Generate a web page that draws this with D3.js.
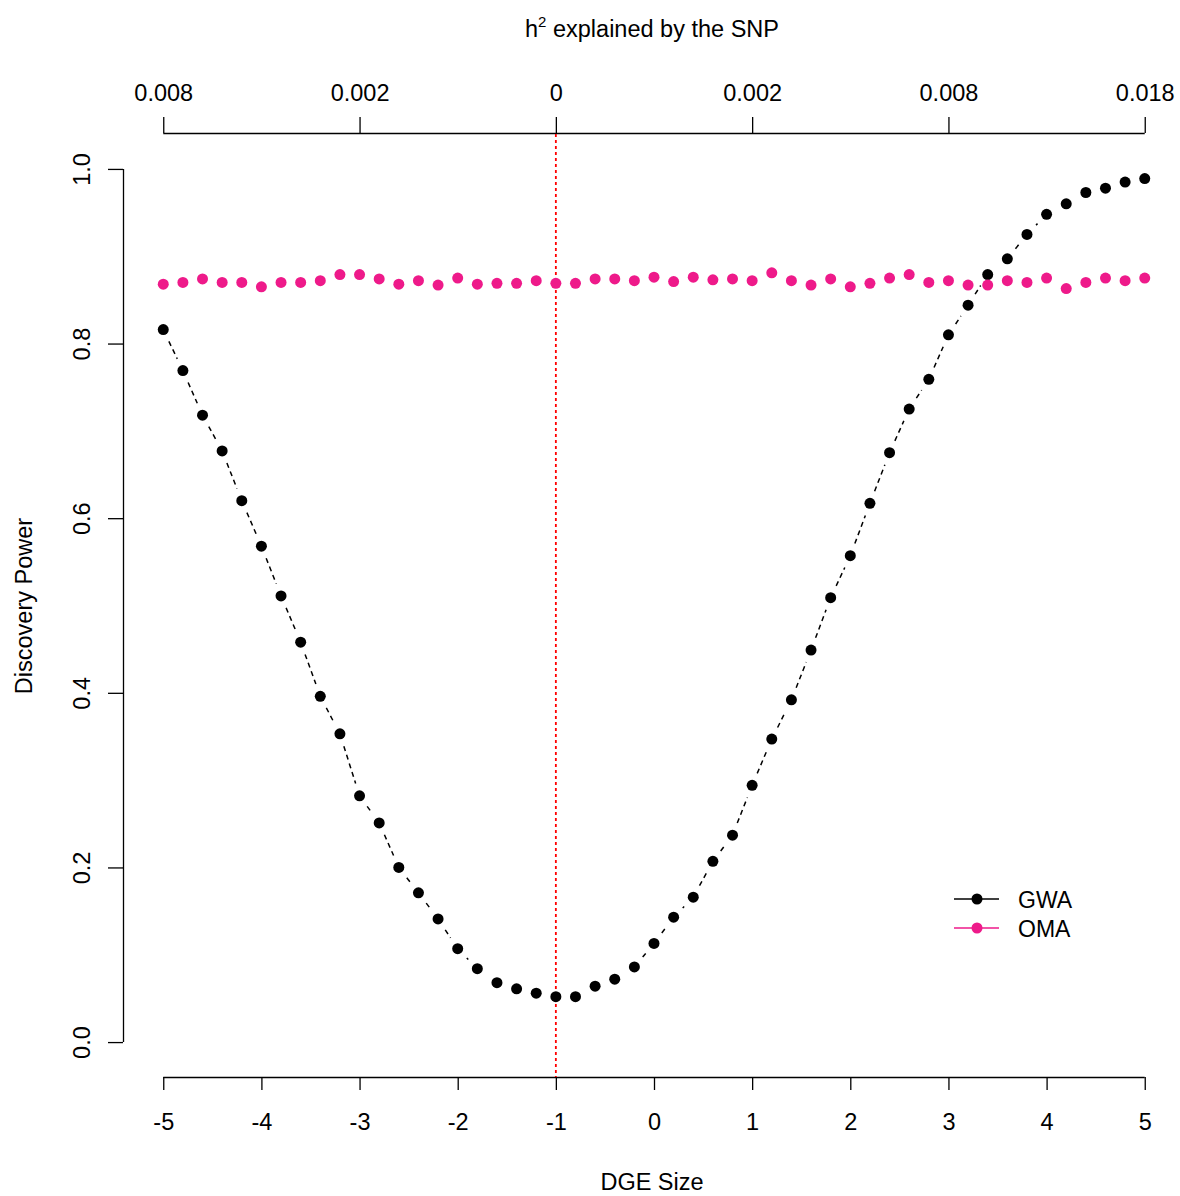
<!DOCTYPE html>
<html>
<head>
<meta charset="utf-8">
<script src="https://cdn.jsdelivr.net/npm/d3@7"></script>
<style>
  body { margin: 0; background: #fff; }
  svg { font-family: "Liberation Sans", Arial, sans-serif; }
  .axis path, .axis line { stroke: #000; stroke-width: 1.3; }
  .axis text { font-size: 23.5px; fill: #000; }
</style>
</head>
<body>
<svg id="chart" width="1180" height="1196"></svg>
<script>
// DGE size grid, -5 to 5 in steps of 0.2
var dgeSize = [-5,-4.8,-4.6,-4.4,-4.2,-4,-3.8,-3.6,-3.4,-3.2,-3,-2.8,-2.6,-2.4,-2.2,-2,-1.8,-1.6,-1.4,-1.2,-1,
  -0.8,-0.6,-0.4,-0.2,0,0.2,0.4,0.6,0.8,1,1.2,1.4,1.6,1.8,2,2.2,2.4,2.6,2.8,3,3.2,3.4,3.6,3.8,4,4.2,4.4,4.6,4.8,5];

var gwaPower = [0.816,0.769,0.718,0.677,0.620,0.568,0.511,0.458,0.396,0.353,0.282,0.251,0.200,0.171,0.141,0.107,
  0.084,0.068,0.061,0.056,0.052,0.052,0.064,0.072,0.086,0.113,0.143,0.166,0.207,0.237,0.294,0.347,0.392,0.449,
  0.509,0.557,0.617,0.675,0.725,0.759,0.810,0.844,0.879,0.897,0.925,0.948,0.960,0.973,0.978,0.985,0.989];

var omaPower = [0.868,0.870,0.874,0.870,0.870,0.865,0.870,0.870,0.872,0.879,0.879,0.874,0.868,0.872,0.867,0.875,
  0.868,0.869,0.869,0.872,0.869,0.869,0.874,0.874,0.872,0.876,0.871,0.876,0.873,0.874,0.872,0.881,0.872,0.867,
  0.874,0.865,0.869,0.875,0.879,0.870,0.872,0.867,0.867,0.872,0.870,0.875,0.863,0.870,0.875,0.872,0.875];

var bottomTicks = [-5,-4,-3,-2,-1,0,1,2,3,4,5];
var topTicks = [-5,-3,-1,1,3,5];
var topLabels = ["0.008","0.002","0","0.002","0.008","0.018"];
var yTicks = [0,0.2,0.4,0.6,0.8,1.0];
var yLabels = ["0.0","0.2","0.4","0.6","0.8","1.0"];

var svg = d3.select("#chart");

var x = d3.scaleLinear().domain([-5.4, 5.4]).range([124, 1184]);
var y = d3.scaleLinear().domain([-0.04, 1.04]).range([1077, 134]);

// axes
svg.append("g").attr("class", "axis")
  .attr("transform", "translate(0,1077)")
  .call(d3.axisBottom(x).tickValues(bottomTicks).tickSize(13).tickPadding(23).tickFormat(String))
  .call(function(g) { g.select(".domain").attr("d", "M" + x(-5) + ",0.5H" + x(5)); });

svg.append("g").attr("class", "axis")
  .attr("transform", "translate(0,133)")
  .call(d3.axisTop(x).tickValues(topTicks).tickSize(16).tickPadding(16)
    .tickFormat(function(d, i) { return topLabels[i]; }))
  .call(function(g) { g.select(".domain").attr("d", "M" + x(-5) + ",0.5H" + x(5)); });

svg.append("g").attr("class", "axis")
  .attr("transform", "translate(123,0)")
  .call(d3.axisLeft(y).tickValues(yTicks).tickSize(15).tickPadding(0)
    .tickFormat(function(d, i) { return yLabels[i]; }))
  .call(function(g) {
    g.select(".domain").attr("d", "M0.5," + y(0) + "V" + y(1));
    g.selectAll(".tick text")
      .attr("transform", "translate(-41,0) rotate(-90)")
      .attr("text-anchor", "middle").attr("x", 0).attr("dy", "0.35em");
  });

// titles
svg.append("text").attr("x", 652).attr("y", 1190).attr("text-anchor", "middle")
  .attr("font-size", 23.5).text("DGE Size");
svg.append("text").attr("transform", "translate(32,606) rotate(-90)").attr("text-anchor", "middle")
  .attr("font-size", 23.5).text("Discovery Power");
var ttl = svg.append("text").attr("x", 652).attr("y", 37).attr("text-anchor", "middle").attr("font-size", 23.5);
ttl.append("tspan").text("h");
ttl.append("tspan").attr("dy", -10).attr("font-size", 15).text("2");
ttl.append("tspan").attr("dy", 10).text(" explained by the SNP");

// reference line at DGE = -1
svg.append("line")
  .attr("x1", x(-1)).attr("x2", x(-1)).attr("y1", 134).attr("y2", 1077)
  .attr("stroke", "#ff0000").attr("stroke-width", 1.8).attr("stroke-dasharray", "3,3");

// series drawn like R type = "b": segments with gaps around points
function drawSeries(vals, color) {
  var g = svg.append("g");
  var pts = dgeSize.map(function(d, i) { return [x(d), y(vals[i])]; });
  var gap = 13;
  for (var i = 0; i < pts.length - 1; i++) {
    var p0 = pts[i], p1 = pts[i + 1];
    var dx = p1[0] - p0[0], dy = p1[1] - p0[1];
    var len = Math.sqrt(dx * dx + dy * dy);
    if (len <= 2 * gap) continue;
    var ux = dx / len, uy = dy / len;
    g.append("line")
      .attr("x1", p0[0] + ux * gap).attr("y1", p0[1] + uy * gap)
      .attr("x2", p1[0] - ux * gap).attr("y2", p1[1] - uy * gap)
      .attr("stroke", color).attr("stroke-width", 1.5).attr("stroke-dasharray", "5,4");
  }
  g.selectAll("circle").data(pts).enter().append("circle")
    .attr("cx", function(d) { return d[0]; })
    .attr("cy", function(d) { return d[1]; })
    .attr("r", 5.5).attr("fill", color);
}
drawSeries(gwaPower, "#000000");
drawSeries(omaPower, "#ee1a8a");

// legend
var legend = [["GWA", "#000000"], ["OMA", "#ee1a8a"]];
var lg = svg.append("g");
legend.forEach(function(d, i) {
  var ly = 899 + i * 29;
  lg.append("line").attr("x1", 954).attr("x2", 999).attr("y1", ly).attr("y2", ly)
    .attr("stroke", d[1]).attr("stroke-width", 1.5);
  lg.append("circle").attr("cx", 977).attr("cy", ly).attr("r", 5.5).attr("fill", d[1]);
  lg.append("text").attr("x", 1018).attr("y", ly + 8.5).attr("font-size", 23).text(d[0]);
});
</script>
</body>
</html>
